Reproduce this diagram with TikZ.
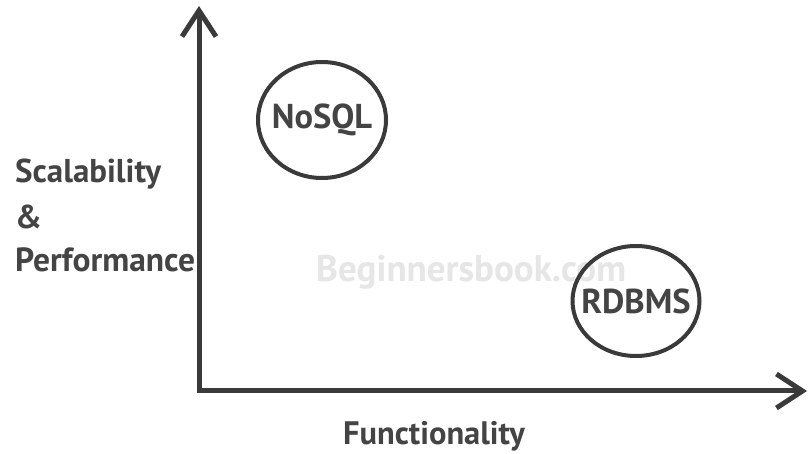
\documentclass[tikz,border=0pt]{standalone}
\usepackage{fontspec}
\setmainfont{PT Sans}
\usetikzlibrary{arrows.meta,shapes.geometric}
\definecolor{ink}{HTML}{3A3A3A}
\definecolor{txt}{HTML}{444444}
\definecolor{wm}{HTML}{E6E6E6}
\begin{document}
\begin{tikzpicture}[x=1pt,y=-1pt,
  axis/.style={draw=ink,line width=5pt,line join=miter,
    arrows={Straight Barb[length=26pt,width=34pt,line width=5pt]-Straight Barb[length=26pt,width=34pt,line width=5pt]}},
  blob/.style={ellipse,draw=ink,line width=4pt,inner sep=0pt},
  inside/.style={text=txt,inner sep=0pt,font=\bfseries\fontsize{34.5}{38}\selectfont},
  lbl/.style={anchor=base west,text=txt,inner sep=0pt,font=\bfseries\fontsize{33}{36}\selectfont}]
\useasboundingbox (0,0) rectangle (809,454);
\fill[white] (0,0) rectangle (809,454);
\node[anchor=base west,text=wm,inner sep=0pt,font=\bfseries\fontsize{37}{40}\selectfont] (wmark) at (316,282) {Beginnersbook.com};
\coordinate (Y) at (199,6);
\coordinate (O) at (199,391);
\coordinate (X) at (807,391);
\draw[axis] (Y) -- (O) -- (X);
\node[blob,minimum width=128,minimum height=116] (nosql) at (322,120) {};
\node[inside] (nosqlt) at (nosql.center) {NoSQL};
\node[blob,minimum width=127,minimum height=110] (rdbms) at (636,301) {};
\node[inside] (rdbmst) at (rdbms.center) {RDBMS};
\node[lbl] (s1) at (15,183) {Scalability};
\node[lbl] (s2) at (15,229) {\&};
\node[lbl,font=\bfseries\fontsize{33.5}{36}\selectfont] (s3) at (15,272) {Performance};
\node[lbl,font=\bfseries\fontsize{32.5}{36}\selectfont] (fx) at (343,444) {Functionality};
\end{tikzpicture}
\end{document}
